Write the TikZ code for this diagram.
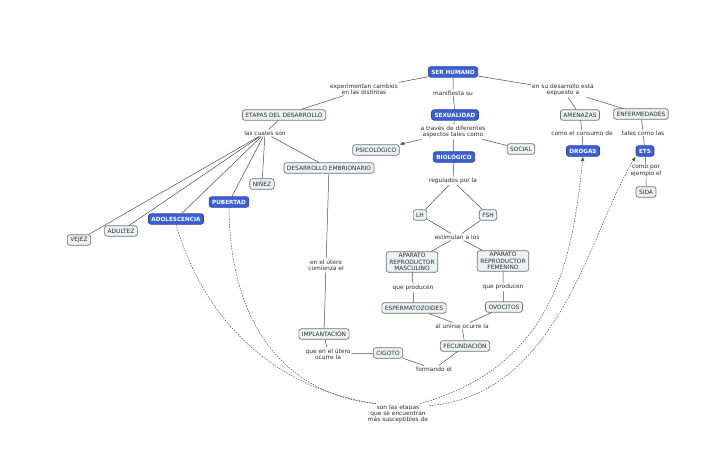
\documentclass[tikz,border=0pt]{standalone}
\usepackage{fontspec}
\setmainfont{DejaVu Sans}
\usetikzlibrary{arrows.meta}
\definecolor{azul}{RGB}{60,95,215}
\definecolor{claro}{RGB}{236,242,243}
\definecolor{borde}{RGB}{105,117,123}
\definecolor{tinta}{RGB}{45,45,45}

\begin{document}
\begin{tikzpicture}[x=1pt,y=-1pt,
    concepto/.style={draw=borde,fill=claro,rounded corners=2.5pt,text=tinta,
      font=\fontsize{5.9}{6.6}\selectfont,inner xsep=3pt,inner ysep=1.5pt,
      minimum height=10.5pt,line width=0.7pt,align=center},
    clave/.style={concepto,draw=azul!75!black,fill=azul,text=white,
      font=\fontsize{5.7}{6.6}\selectfont\bfseries},
    enlace/.style={font=\fontsize{5.9}{6.3}\selectfont,text=tinta,align=center,inner sep=1pt},
    con/.style={draw=tinta!85,line width=0.5pt},
    punteado/.style={con,dash pattern=on 1.5pt off 1.2pt},
    punta/.style={-{Latex[length=4.5pt,width=3.6pt]}}]
  \fill[white] (0,0) rectangle (728,476);
  \useasboundingbox (0,0) rectangle (728,476);

  % conceptos
  \node[clave] (ser) at (453,72) {SER HUMANO};
  \node[clave] (sex) at (455,115) {SEXUALIDAD};
  \node[clave] (bio) at (454,157) {BIOLÓGICO};
  \node[concepto] (psico) at (376,150) {PSICOLÓGICO};
  \node[concepto] (social) at (521,149) {SOCIAL};
  \node[concepto] (etapas) at (284,115) {ETAPAS DEL DESARROLLO};
  \node[concepto] (embrio) at (329,168) {DESARROLLO EMBRIONARIO};
  \node[concepto] (ninez) at (262,184) {NIÑEZ};
  \node[clave] (pub) at (229,202) {PUBERTAD};
  \node[clave] (adol) at (176,219) {ADOLESCENCIA};
  \node[concepto] (adultez) at (121,231) {ADULTEZ};
  \node[concepto] (vejez) at (79,240) {VEJEZ};
  \node[concepto] (amenazas) at (580,115) {AMENAZAS};
  \node[concepto] (enferm) at (641,114) {ENFERMEDADES};
  \node[clave] (drogas) at (583,151) {DROGAS};
  \node[clave] (ets) at (645,151) {ETS};
  \node[concepto] (sida) at (646,192) {SIDA};
  \node[concepto] (lh) at (420,215) {LH};
  \node[concepto] (fsh) at (488,215) {FSH};
  \node[concepto] (masc) at (412,262) {APARATO\\REPRODUCTOR\\MASCULINO};
  \node[concepto] (fem) at (503,261) {APARATO\\REPRODUCTOR\\FEMENINO};
  \node[concepto] (esperma) at (414,308) {ESPERMATOZOIDES};
  \node[concepto] (ovo) at (504,307) {OVOCITOS};
  \node[concepto] (fecun) at (465,346) {FECUNDACIÓN};
  \node[concepto] (cigoto) at (388,353) {CIGOTO};
  \node[concepto] (implan) at (324,334) {IMPLANTACIÓN};

  % frases de enlace
  \node[enlace] (experim) at (364,89) {experimentan cambios\\en las distintas};
  \node[enlace] (manif) at (453,93) {manifiesta su};
  \node[enlace] (traves) at (453,132) {a través de diferentes\\aspectos tales como};
  \node[enlace] (expuesto) at (563,90) {en su desarrollo está\\expuesto a};
  \node[enlace] (consumo) at (582,133) {como el consumo de};
  \node[enlace] (tales) at (643,133) {tales como las};
  \node[enlace] (ejemplo) at (646,171) {como por\\ejemplo el};
  \node[enlace] (cuales) at (265,133) {las cuales son};
  \node[enlace] (regul) at (453,181) {regulados por la};
  \node[enlace] (estim) at (457,237) {estimulan a los};
  \node[enlace] (prodm) at (413,288) {que producen};
  \node[enlace] (prodf) at (503,287) {que producen};
  \node[enlace] (unirse) at (462,326) {al unirse ocurre la};
  \node[enlace] (formando) at (434,369) {formando el};
  \node[enlace] (comienza) at (326,265) {en el útero\\comienza el};
  \node[enlace] (ocurre) at (328,354) {que en el útero\\ocurre la};
  \node[enlace] (son) at (398,414) {son las etapas\\que se encuentran\\más susceptibles de};

  % conexiones
  \draw[con] (ser) -- (experim) -- (etapas);
  \draw[con] (ser) -- (manif) -- (sex);
  \draw[con] (ser) -- (expuesto);
  \draw[con] (expuesto) -- (amenazas);
  \draw[con] (expuesto) -- (enferm);
  \draw[con] (amenazas) -- (consumo) -- (drogas);
  \draw[con] (enferm) -- (tales) -- (ets);
  \draw[con] (ets) -- (ejemplo) -- (sida);
  \draw[con] (sex) -- (traves) -- (bio);
  \draw[con,punta] (traves) -- (psico);
  \draw[con] (traves) -- (social);
  \draw[con] (etapas) -- (cuales);
  \foreach \n in {vejez,adultez,adol,pub,ninez,embrio}
    \draw[con] (cuales) -- (\n);
  \draw[con] (embrio) -- (comienza) -- (implan);
  \draw[con] (implan) -- (ocurre) -- (cigoto);
  \draw[con] (fecun) -- (formando) -- (cigoto);
  \draw[con] (esperma) -- (unirse);
  \draw[con] (ovo) -- (unirse) -- (fecun);
  \draw[con] (bio) -- (regul);
  \draw[con] (regul) -- (lh);
  \draw[con] (regul) -- (fsh);
  \draw[con] (lh) -- (estim);
  \draw[con] (fsh) -- (estim);
  \draw[con] (estim) -- (masc);
  \draw[con] (estim) -- (fem);
  \draw[con] (masc) -- (prodm) -- (esperma);
  \draw[con] (fem) -- (prodf) -- (ovo);

  % etapas susceptibles
  \draw[punteado] (adol.south) .. controls (198,300) and (255,385) .. (son.155);
  \draw[punteado] (pub.south) .. controls (230,330) and (290,395) .. (son.155);
  \draw[punteado,punta] (son.25) .. controls (555,365) and (572,260) .. (drogas.south);
  \draw[punteado,punta] (son.15) .. controls (560,395) and (590,230) .. (ets.south west);
\end{tikzpicture}
\end{document}
